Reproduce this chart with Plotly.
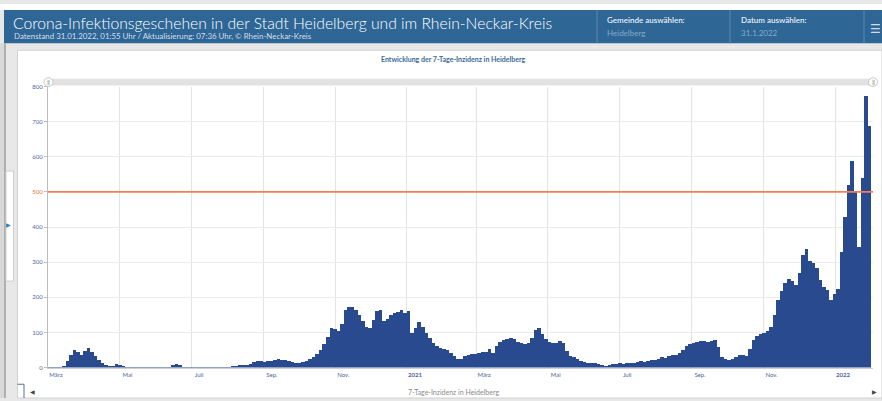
import plotly.graph_objects as go
import pandas as pd

# ---------------- data (one value per 3-day period) ----------------
period_start = "2020-03-01"
period_days = 3
incidence = [
    1, 2, 2, 3, 7, 20, 38, 51, 47, 38,
    48, 57, 46, 34, 22, 15, 9, 6, 7, 10,
    9, 5, 4, 3, 3, 4, 3, 2, 3, 3,
    2, 3, 3, 2, 2, 8, 10, 9, 4, 2,
    1, 2, 2, 1, 2, 3, 3, 2, 1, 2,
    3, 3, 5, 7, 9, 8, 8, 10, 16, 20,
    19, 18, 20, 21, 23, 25, 23, 22, 21, 18,
    15, 14, 16, 20, 25, 30, 40, 52, 68, 88,
    115, 110, 106, 125, 165, 175, 173, 165, 150, 135,
    118, 113, 138, 162, 165, 135, 140, 150, 157, 160,
    165, 158, 162, 100, 115, 130, 118, 100, 85, 72,
    62, 57, 53, 50, 42, 34, 26, 25, 33, 37,
    39, 41, 43, 45, 47, 55, 44, 62, 75, 80,
    84, 85, 82, 74, 70, 68, 72, 85, 108, 114,
    98, 82, 74, 70, 72, 76, 72, 48, 33, 30,
    26, 19, 17, 15, 14, 13, 12, 9, 7, 8,
    10, 11, 13, 12, 13, 15, 14, 16, 19, 18,
    20, 22, 24, 27, 30, 29, 33, 36, 37, 43,
    52, 62, 68, 72, 74, 78, 77, 75, 78, 80,
    60, 32, 26, 23, 25, 32, 37, 36, 34, 55,
    80, 90, 98, 100, 105, 118, 150, 195, 220, 243,
    252, 248, 237, 270, 322, 340, 305, 298, 284, 250,
    230, 222, 195, 212, 225, 330, 430, 520, 590, 500,
    345, 540, 775, 690,
]
threshold = 500
x_ticks = ["2020-03-01", "2020-05-01", "2020-07-01", "2020-09-01", "2020-11-01",
           "2021-01-01", "2021-03-01", "2021-05-01", "2021-07-01", "2021-09-01",
           "2021-11-01", "2022-01-01"]
x_labels = ["März", "Mai", "Juli", "Sep.", "Nov.", "<b>2021</b>", "März", "Mai",
            "Juli", "Sep.", "Nov.", "<b>2022</b>"]
y_ticks = [0, 100, 200, 300, 400, 500, 600, 700, 800]
y_labels = [str(v) if v != threshold else f'<span style="color:#e0743f">{v}</span>' for v in y_ticks]

header_title = "Corona-Infektionsgeschehen in der Stadt Heidelberg und im Rhein-Neckar-Kreis"
header_sub = "Datenstand 31.01.2022, 01:55 Uhr / Aktualisierung: 07:36 Uhr, © Rhein-Neckar-Kreis"
chart_title = "Entwicklung der 7-Tage-Inzidenz in Heidelberg"
axis_title = "7-Tage-Inzidenz in Heidelberg"

W, H = 882, 401
def px(x): return x / W
def py(y): return 1 - y / H

dates = pd.date_range(period_start, periods=len(incidence), freq=f"{period_days}D")

fig = go.Figure()
fig.add_trace(go.Bar(
    x=dates, y=incidence, offset=0, width=period_days * 86400000,
    marker=dict(color="#2a4a8f", line=dict(width=0)), hoverinfo="x+y",
))

FONT = "Lato"
shapes = []
shapes.append(dict(type="rect", xref="paper", yref="paper", x0=0, x1=1, y0=py(6), y1=1,
                   fillcolor="white", line=dict(width=0), layer="below"))
shapes.append(dict(type="rect", xref="paper", yref="paper", x0=px(4), x1=1, y0=py(40), y1=py(6),
                   fillcolor="#2e6696", line=dict(width=0), layer="below"))
for sx in [597, 730, 864]:
    shapes.append(dict(type="line", xref="paper", yref="paper", x0=px(sx), x1=px(sx), y0=py(40), y1=py(6),
                       line=dict(color="#5c88b0", width=1), layer="below"))
shapes.append(dict(type="rect", xref="paper", yref="paper", x0=0, x1=px(4.5), y0=0, y1=py(40),
                   fillcolor="#d9d9d9", line=dict(width=0), layer="below"))
shapes.append(dict(type="line", xref="paper", yref="paper", x0=px(5), x1=px(5), y0=0, y1=py(40),
                   line=dict(color="#8c8c8c", width=1.2), layer="below"))
shapes.append(dict(type="rect", xref="paper", yref="paper", x0=px(17.5), x1=1, y0=0, y1=py(47),
                   fillcolor="white", line=dict(color="#d0d0d0", width=1), layer="below"))
shapes.append(dict(type="rect", xref="paper", yref="paper", x0=px(6), x1=px(13.5), y0=py(282), y1=py(170),
                   fillcolor="white", line=dict(color="#cfcfcf", width=1), layer="below"))
shapes.append(dict(type="path", xref="paper", yref="paper",
                   path=f"M {px(17.5)} {py(387)} L {px(24)} {py(387)} L {px(24)} {py(401)}",
                   line=dict(color="#5d6f98", width=1)))
shapes.append(dict(type="rect", xref="paper", yref="paper", x0=px(48), x1=px(873), y0=py(83), y1=py(76),
                   fillcolor="#e2e2e2", line=dict(width=0)))
for hx in [48.5, 873]:
    shapes.append(dict(type="circle", xref="paper", yref="paper", x0=px(hx - 4.5), x1=px(hx + 4.5),
                       y0=py(84), y1=py(75), fillcolor="white", line=dict(color="#c8c8c8", width=1)))
shapes.append(dict(type="line", xref="paper", yref="y", x0=px(48), x1=px(873), y0=threshold, y1=threshold,
                   line=dict(color="#f07f55", width=1.6)))

ann = []
def text(x, y, t, size, color, anchor="left", family=FONT, weight=None):
    f = dict(size=size, color=color, family=family)
    if weight is not None:
        f["weight"] = weight
    ann.append(dict(x=px(x), y=py(y), xref="paper", yref="paper", text=t, showarrow=False,
                    xanchor=anchor, yanchor="middle", font=f))

text(11, 19, header_title, 15.7, "white", weight=300)
text(12, 33, header_sub, 7.9, "#d2deea")
text(605, 16, "Gemeinde auswählen:", 8, "#e8eef5", weight=600)
text(605, 30, "Heidelberg", 8, "#86a9cb")
text(739, 16, "Datum auswählen:", 8, "#e8eef5", weight=600)
text(739, 30, "31.1.2022", 8, "#86a9cb")
text(868, 25, "☰", 12, "#d0dcea", family="DejaVu Sans")
text(453, 56, f"<b>{chart_title}</b>", 7, "#3b6a98", anchor="center")
text(453, 395, axis_title, 7, "#8a8a8a", anchor="center")
text(8, 224, "▶", 6, "#2a7bc4", anchor="center", family="DejaVu Sans")
text(32, 394, "◀", 6, "#444444", anchor="center", family="DejaVu Sans")
text(874, 394, "▶", 6, "#444444", anchor="center", family="DejaVu Sans")
for hx in [48.5, 873]:
    text(hx, 79.5, "ǁ", 6, "#9a9a9a", anchor="center", family="DejaVu Sans")

fig.update_layout(
    width=W, height=H, margin=dict(l=0, r=0, t=0, b=0),
    paper_bgcolor="#e8e8e8", plot_bgcolor="white",
    showlegend=False, bargap=0,
    shapes=shapes, annotations=ann,
    font=dict(family=FONT),
    xaxis=dict(domain=[px(48), px(873)], range=["2020-03-01", "2022-02-02 08:00"],
               tickvals=x_ticks, ticktext=x_labels, ticks="", showgrid=True,
               gridcolor="#e4e4e4", gridwidth=1, showline=True, linecolor="#cfcfcf",
               zeroline=False, tickfont=dict(size=6, color="#4f65a0", family=FONT),
               ticklabelshift=8, ticklabelstandoff=1, fixedrange=True),
    yaxis=dict(domain=[py(370), py(84)], range=[0, 800], tickvals=y_ticks, ticktext=y_labels,
               ticks="outside", ticklen=3, tickcolor="#bdbdbd", showline=True, linecolor="#bdbdbd",
               showgrid=True, gridcolor="#eaeaea", zeroline=False,
               tickfont=dict(size=6, color="#4f65a0", family=FONT), fixedrange=True),
)

fig.write_html("out.html", config={"displayModeBar": False},
               post_script="document.body.style.margin='0';document.body.style.padding='0';"
                           "document.body.style.overflow='hidden';")
